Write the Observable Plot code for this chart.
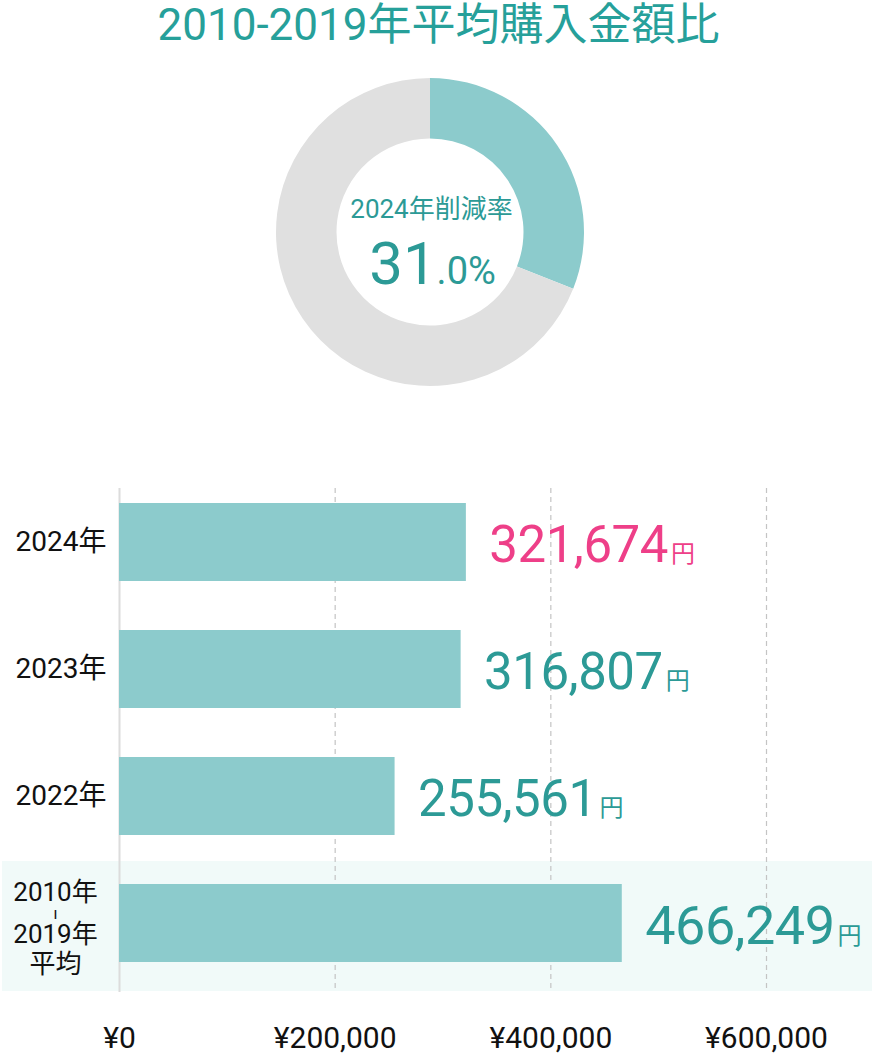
<!DOCTYPE html>
<html><head><meta charset="utf-8">
<script src="https://cdn.jsdelivr.net/npm/d3@7"></script>
<script src="https://cdn.jsdelivr.net/npm/@observablehq/plot@0.6"></script>
<style>
body{margin:0;background:#fff;}
svg{display:block;}
</style>
</head><body>
<div id="top"></div>
<div id="bars"></div>
<script>
// ---- data ----
const title = "2010-2019年平均購入金額比";
const donutParts = ["削減", "残り"];
const donutValues = [31.0, 69.0];
const donutColors = ["#8ccbcc", "#e0e0e0"];
const rateLabel = "2024年削減率";
const reductionRate = 31.0;

const categories = ["2024年", "2023年", "2022年", "2010年-2019年平均"];
const amounts = [321674, 316807, 255561, 466249];
const yLabels = ["2024年", "2023年", "2022年", "2010年-2019年平均"];
const avgLabelLines = ["2010年", "ı", "2019年", "平均"];
const highlightCategory = "2010年-2019年平均";
const emphasisCategory = "2024年";
const xTicks = [0, 200000, 400000, 600000];
const unit = "円";

// ---- style ----
const FONT = "Roboto, 'Noto Sans CJK JP', sans-serif";
const TEAL = "#2c9a96";
const TITLE = "#26a09a";
const PINK = "#ee3f88";
const BAR = "#8ccbcc";
const avgLineOffsets = [-31, -10, 11, 41];
const avgLineSizes = [26, 16, 26, 26];

// ---- donut ----
function donutMark(index, scales, values, dims) {
  const cx = (dims.marginLeft + dims.width - dims.marginRight) / 2;
  const cy = (dims.marginTop + dims.height - dims.marginBottom) / 2;
  const arcs = d3.pie().sort(null)(donutValues);
  const arc = d3.arc().innerRadius(93.5).outerRadius(154);
  const g = d3.create("svg:g").attr("transform", `translate(${cx},${cy})`);
  g.selectAll("path").data(arcs).join("path")
    .attr("d", arc)
    .attr("fill", (d, i) => donutColors[i])
    .append("title").text((d, i) => donutParts[i]);
  return g.node();
}
const rateText = d3.format(".1f")(reductionRate).split(".");

const topPlot = Plot.plot({
  width: 872, height: 440,
  marginTop: 24, marginBottom: 0, marginLeft: 0, marginRight: 12,
  x: {axis: null}, y: {axis: null},
  style: {fontFamily: FONT, background: "transparent", overflow: "visible"},
  marks: [
    donutMark,
    Plot.text([title], {frameAnchor: "top", lineAnchor: "top", text: d => d, dx: 8, dy: -16, fontSize: 44, fill: TITLE}),
    Plot.text([rateLabel], {frameAnchor: "middle", text: d => d, dx: 1, dy: -23, fontSize: 26, fill: TEAL}),
    Plot.text([rateText[0]], {frameAnchor: "middle", text: d => d, dx: 2, dy: 32, fontSize: 60, fill: TEAL})
  ]
});
d3.select(topPlot).selectAll("text")
  .filter(function() { return this.textContent === rateText[0]; })
  .append("tspan").attr("font-size", 38).text("." + rateText[1] + "%");
document.getElementById("top").append(topPlot);

// ---- bars ----
const rows = categories.map((c, i) => ({category: c, amount: amounts[i], label: yLabels[i]}));
const fmt = d3.format(",");
const valueStrings = new Set(amounts.map(fmt));

const barsPlot = Plot.plot({
  width: 872, height: 614,
  marginTop: 48, marginBottom: 62, marginLeft: 2, marginRight: 0,
  x: {domain: [0, 600000], range: [119, 766], label: null},
  y: {domain: categories, range: [49.7, 535.3], paddingInner: 0.388, paddingOuter: 0.1, axis: null},
  color: {type: "identity"},
  style: {fontFamily: FONT, background: "transparent", overflow: "visible", color: "#111"},
  marks: [
    Plot.cell([highlightCategory], {y: d => d, fill: "#f1faf9", insetTop: -23, insetBottom: -29}),
    Plot.gridX(xTicks.filter(d => d > 0), {stroke: "#c4c4c4", strokeOpacity: 1, strokeDasharray: "5,4", strokeWidth: 1.2}),
    Plot.ruleX([0], {stroke: "#dcdcdc", strokeWidth: 2}),
    Plot.barX(rows, {x: "amount", y: "category", fill: BAR}),
    Plot.text(rows, {
      x: "amount", y: "category", text: d => fmt(d.amount),
      dx: 23, dy: 3, textAnchor: "start",
      fontSize: d => d.category === highlightCategory ? 54 : 51,
      fill: d => d.category === emphasisCategory ? PINK : TEAL
    }),
    Plot.text(rows.filter(d => d.category !== highlightCategory), {
      x: d => 0, y: "category", text: "label", dx: -13, textAnchor: "end", fontSize: 28, fill: "#111"
    }),
    ...avgLabelLines.map((line, i) => Plot.text([line], {
      x: d => 0, y: d => highlightCategory, text: d => d,
      dx: -64, dy: avgLineOffsets[i], textAnchor: "middle", fontSize: avgLineSizes[i], fill: "#111"
    })),
    Plot.axisX(xTicks, {tickSize: 0, tickPadding: 34, fontSize: 30, label: null, tickFormat: d => "¥" + fmt(d), fill: "#111"})
  ]
});
d3.select(barsPlot).selectAll("text")
  .filter(function() { return valueStrings.has(this.textContent); })
  .style("letter-spacing", "-0.5px")
  .append("tspan").attr("font-size", 24).attr("dx", 3).style("letter-spacing", "0").text(unit);
document.getElementById("bars").append(barsPlot);
</script>
</body></html>
